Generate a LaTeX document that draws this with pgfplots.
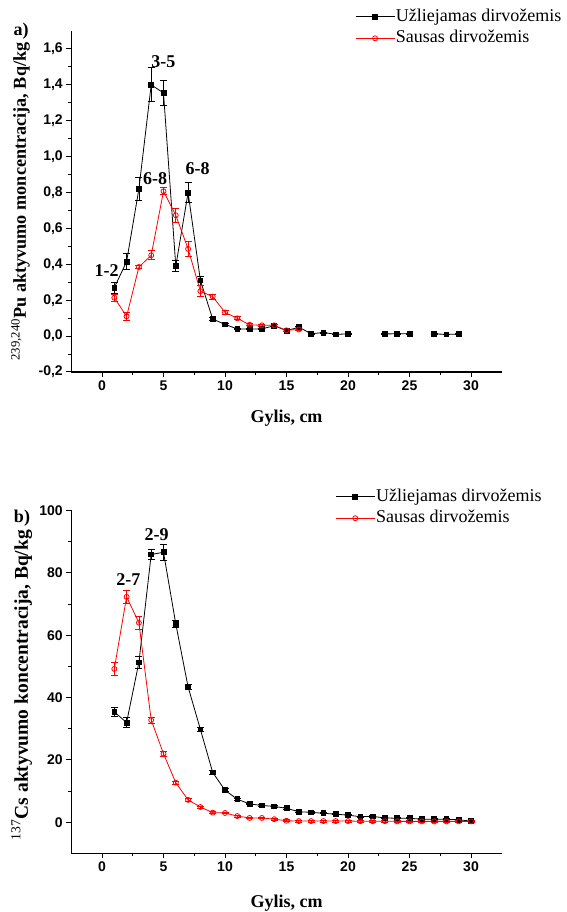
\documentclass[border=0pt]{standalone}
\usepackage{pgfplots}
\pgfplotsset{compat=1.18}
\usepackage{pgfplotstable}
\usepackage{fontspec}
\setmainfont{Liberation Serif}
\setsansfont{Liberation Sans}

\pgfplotstableread{
x y e
1 0.27 0.03
2 0.415 0.045
3 0.82 0.065
4 1.40 0.095
5 1.355 0.07
6 0.39 0.03
7 0.80 0.055
8 0.31 0.025
9 0.095 0.01
10 0.065 0.008
11 0.04 0.005
12 0.04 0.005
13 0.04 0.005
14 0.058 0.006
15 0.03 0.005
16 0.05 0.006
17 0.013 0.003
18 0.02 0.003
19 0.01 0.002
20 0.012 0.002
21 nan nan
23 0.012 0.002
24 0.013 0.002
25 0.013 0.002
26 nan nan
27 0.012 0.002
28 0.01 0.002
29 0.011 0.002
}\puA

\pgfplotstableread{
x y e
1 0.214 0.02
2 0.11 0.02
3 0.385 0.01
4 0.45 0.025
5 0.807 0.02
6 0.673 0.04
7 0.486 0.04
8 0.25 0.03
9 0.22 0.015
10 0.132 0.01
11 0.099 0.008
12 0.063 0.006
13 0.06 0.005
14 0.06 0.005
15 0.032 0.005
16 0.037 0.005
}\puB

\pgfplotstableread{
x y e
1 35.4 1.5
2 32.0 1.5
3 51.3 2
4 85.9 1.5
5 86.6 2.5
6 63.6 1
7 43.4 0.8
8 29.8 0.6
9 16.0 0.5
10 10.3 0.5
11 7.4 0.4
12 5.9 0.3
13 5.4 0.3
14 5.1 0.3
15 4.5 0.3
16 3.4 0.3
17 3.2 0.2
18 2.9 0.2
19 2.6 0.2
20 2.3 0.2
21 1.8 0.2
22 1.9 0.2
23 1.4 0.2
24 1.3 0.2
25 1.3 0.2
26 1.0 0.2
27 1.0 0.2
28 1.0 0.2
29 0.8 0.2
30 0.4 0.2
}\csA

\pgfplotstableread{
x y e
1 49.2 2
2 72.3 2
3 64.0 2
4 32.8 1
5 22.0 0.8
6 12.7 0.5
7 7.2 0.4
8 4.9 0.3
9 3.1 0.3
10 3.0 0.3
11 2.0 0.3
12 1.4 0.3
13 1.4 0.3
14 1.0 0.3
15 0.5 0.3
16 0.4 0.3
17 0.4 0.3
18 0.4 0.3
19 0.4 0.3
20 0.4 0.3
21 0.35 0.3
22 0.35 0.3
23 0.35 0.3
24 0.3 0.3
25 0.3 0.3
26 0.3 0.3
27 0.3 0.3
28 0.3 0.3
29 0.3 0.3
30 0.3 0.3
}\csB

\pgfplotsset{
  myleg/.style={legend image code/.code={\draw[mark repeat=2,mark phase=2,##1]
      plot coordinates {(0pt,0pt) (19.5pt,0pt) (39pt,0pt)};}},
  mystyle/.style={
    scale only axis, width=430.5pt,
    xmin=-2.5, xmax=32.5,
    axis x line*=bottom, axis y line*=left,
    axis line style={line width=1.2pt},
    tick align=outside, major tick length=5pt, minor tick length=3pt,
    tick style={line width=1pt, black},
    xtick={0,5,...,30}, minor x tick num=1, minor y tick num=1,
    /pgf/number format/assume math mode=true,
    tick label style={font=\fontsize{14}{14}\selectfont\sffamily\bfseries},
    label style={font=\fontsize{18}{18}\selectfont\bfseries},
    xlabel={Gylis, cm},
    legend style={draw=none, fill=none, anchor=north west, inner sep=0pt,
      font=\fontsize{18}{20}\selectfont, cells={anchor=west},
      nodes={inner sep=1pt, text height=13pt, text depth=4pt}, row sep=2.5pt},
    unbounded coords=jump, clip=false,
  },
  blk/.style={black, line width=0.8pt, mark=square*, mark size=2.4pt,
    mark options={solid},
    error bars/.cd, y dir=both, y explicit,
    error bar style={line width=0.8pt},
    error mark options={rotate=90, line width=0.8pt, mark size=3.5pt}},
  rd/.style={red, line width=0.8pt, mark=o, mark size=2.5pt,
    mark options={solid, fill=white},
    error bars/.cd, y dir=both, y explicit,
    error bar style={line width=0.8pt},
    error mark options={rotate=90, line width=0.8pt, mark size=3.5pt}},
}

\begin{document}
\begin{tikzpicture}
\path[use as bounding box] (0pt,0pt) rectangle (566pt,912pt);

\begin{axis}[mystyle, at={(71.25pt,540pt)}, anchor=south west,
  height=341pt, ymin=-0.2, ymax=1.7,
  ytick={-0.2,0,0.2,0.4,0.6,0.8,1.0,1.2,1.4,1.6},
  yticklabel style={/pgf/number format/.cd, fixed, fixed zerofill, precision=1, use comma},
  ylabel={\textsuperscript{\mdseries 239,240}Pu aktyvumo moncentracija, Bq/kg},
  ylabel style={font=\fontsize{18.2}{18.2}\selectfont\bfseries, at={(axis description cs:-0.118,0.50)}, anchor=center},
  xlabel style={at={(axis description cs:0.5,-0.135)}, anchor=center},
  legend style={at={(0.659,1.070)}},
]
\addplot[myleg, blk] table[x=x, y=y, y error=e] {\puA};
\addlegendentry{Užliejamas dirvožemis}
\addplot[myleg, rd] table[x=x, y=y, y error=e] {\puB};
\addlegendentry{Sausas dirvožemis}
\node[font=\fontsize{18}{18}\selectfont\bfseries] at (axis cs:0.38,0.365) {1-2};
\node[font=\fontsize{18}{18}\selectfont\bfseries] at (axis cs:4.98,1.53) {3-5};
\node[font=\fontsize{18}{18}\selectfont\bfseries] at (axis cs:4.31,0.876) {6-8};
\node[font=\fontsize{18}{18}\selectfont\bfseries] at (axis cs:7.78,0.932) {6-8};
\end{axis}

\begin{axis}[mystyle, at={(71.25pt,58.5pt)}, anchor=south west,
  height=343pt, ymin=-10, ymax=100,
  ytick={0,20,40,60,80,100},
  ylabel={\textsuperscript{\mdseries 137}Cs aktyvumo koncentracija, Bq/kg},
  ylabel style={font=\fontsize{19.5}{19.5}\selectfont\bfseries, at={(axis description cs:-0.115,0.491)}, anchor=center},
  xlabel style={at={(axis description cs:0.5,-0.145)}, anchor=center},
  legend style={at={(0.613,1.0685)}},
]
\addplot[myleg, blk] table[x=x, y=y, y error=e] {\csA};
\addlegendentry{Užliejamas dirvožemis}
\addplot[myleg, rd] table[x=x, y=y, y error=e] {\csB};
\addlegendentry{Sausas dirvožemis}
\node[font=\fontsize{18}{18}\selectfont\bfseries] at (axis cs:2.14,77.8) {2-7};
\node[font=\fontsize{18}{18}\selectfont\bfseries] at (axis cs:4.45,92.2) {2-9};
\end{axis}

\node[font=\fontsize{18}{18}\selectfont\bfseries] at (21pt,881pt) {a)};
\node[font=\fontsize{18}{18}\selectfont\bfseries] at (22pt,394pt) {b)};
\end{tikzpicture}
\end{document}
